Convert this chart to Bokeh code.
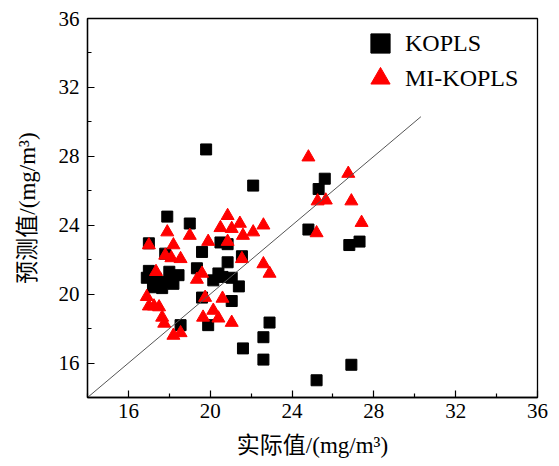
from bokeh.plotting import figure
from bokeh.models import FixedTicker, Legend, LegendItem, Range1d
from bokeh.embed import file_html
from bokeh.resources import INLINE

# KOPLS (black squares)
kopls_x = [19.8, 22.1, 25.6, 25.3, 24.8, 26.8, 27.3, 26.9, 25.2, 22.9, 22.6, 22.6, 21.6,
           17.9, 19.0, 20.5, 20.85, 19.6, 20.85, 21.55, 19.35, 20.4, 20.6, 20.15, 21.05,
           21.4, 19.6, 21.05, 19.9, 18.55, 17.0, 17.8, 17.0, 16.9, 17.35, 18.0, 18.45,
           18.15, 17.8, 17.2, 17.65, 18.2]
kopls_y = [28.4, 26.3, 26.7, 26.1, 23.75, 22.85, 23.05, 15.9, 15.0, 18.35, 17.5, 16.2, 16.85,
           24.5, 24.1, 23.0, 22.9, 22.45, 21.85, 22.2, 21.5, 21.2, 21.0, 20.8, 20.95,
           20.45, 19.8, 19.6, 18.2, 18.2, 22.95, 22.35, 21.35, 20.95, 20.9, 21.3, 21.1,
           20.8, 20.7, 20.4, 20.35, 20.6]

# MI-KOPLS (red triangles)
mi_x = [17.9, 19.0, 17.0, 18.2, 17.8, 18.1, 18.55, 17.35, 16.9, 17.0, 17.25, 17.5, 17.65,
        17.75, 18.2, 18.55, 20.85, 20.5, 21.45, 21.05, 21.6, 22.1, 22.6, 19.9, 20.85,
        21.55, 22.6, 22.9, 19.6, 19.35, 19.75, 20.6, 20.15, 19.65, 20.4, 21.05, 24.8,
        26.75, 25.25, 25.65, 26.9, 25.2, 27.4]
mi_y = [23.6, 23.4, 22.85, 22.85, 22.25, 22.1, 22.05, 21.3, 19.85, 19.3, 19.3, 19.25, 18.65,
        18.3, 17.6, 17.75, 24.55, 23.85, 24.1, 23.8, 23.4, 23.6, 24.0, 23.05, 23.05,
        22.05, 21.75, 21.2, 21.2, 20.85, 19.8, 19.75, 19.05, 18.65, 18.6, 18.35, 27.95,
        27.0, 25.4, 25.45, 25.4, 23.55, 24.15]

# reference line y = x
diag = [14, 30.3]

major_ticks = [16, 20, 24, 28, 32, 36]
minor_ticks = [14, 18, 22, 26, 30, 34]

FONT = "'Liberation Serif', 'Noto Sans CJK SC'"

p = figure(width=551, height=462, x_range=Range1d(14, 36), y_range=Range1d(14, 36),
           output_backend="svg", toolbar_location=None,
           min_border_left=87, min_border_right=14, min_border_top=18, min_border_bottom=65)

p.xgrid.visible = False
p.ygrid.visible = False
p.outline_line_color = "black"
p.outline_line_width = 1.3
p.outline_line_alpha = 1

for ax in (p.xaxis[0], p.yaxis[0]):
    ax.ticker = FixedTicker(ticks=major_ticks, minor_ticks=minor_ticks)
    ax.axis_line_color = "black"
    ax.axis_line_width = 1.3
    ax.major_tick_line_color = "black"
    ax.minor_tick_line_color = "black"
    ax.major_tick_line_width = 1.2
    ax.minor_tick_line_width = 1.2
    ax.major_tick_in = 7
    ax.major_tick_out = 0
    ax.minor_tick_in = 4
    ax.minor_tick_out = 0
    ax.major_label_text_font = FONT
    ax.major_label_text_font_size = "21px"
    ax.major_label_text_color = "black"
    ax.axis_label_text_font = FONT
    ax.axis_label_text_font_size = "23px"
    ax.axis_label_text_font_style = "normal"
    ax.axis_label_text_color = "black"

p.xaxis.axis_label = "实际值/(mg/m³)"
p.yaxis.axis_label = "预测值/(mg/m³)"
p.xaxis.major_label_standoff = 6
p.yaxis.major_label_standoff = 8
p.xaxis.axis_label_standoff = 12
p.yaxis.axis_label_standoff = 16

sq = p.scatter(kopls_x, kopls_y, marker="square", size=11, fill_color="black", line_color="black")
tri = p.scatter(mi_x, mi_y, marker="triangle", size=13, fill_color="red", line_color="red")
p.line(diag, diag, line_color="#555555", line_width=1)

common = dict(border_line_color=None, background_fill_alpha=0, glyph_width=48, glyph_height=48,
              spacing=0, padding=0, margin=0, label_standoff=1, label_text_font=FONT,
              label_text_font_size="24px", label_text_color="black")
leg1 = Legend(items=[LegendItem(label="KOPLS", renderers=[sq])], location=(269, 330), **common)
leg2 = Legend(items=[LegendItem(label="MI-KOPLS", renderers=[tri])], location=(269, 295), **common)
p.add_layout(leg1)
p.add_layout(leg2)

open("out.html", "w").write(file_html(p, INLINE))
